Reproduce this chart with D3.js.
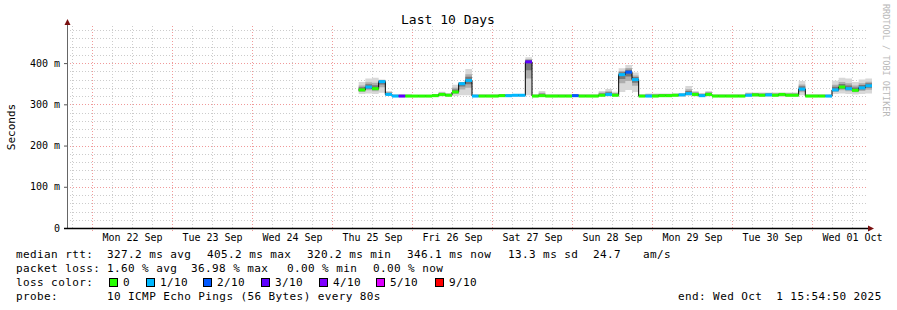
<!DOCTYPE html>
<html>
<head>
<meta charset="utf-8">
<script src="https://cdn.jsdelivr.net/npm/d3@7"></script>
<style>
body { margin: 0; background: #fff; }
text { font-family: "DejaVu Sans Mono", monospace; fill: #000; }
</style>
</head>
<body>
<svg id="plot" width="897" height="310"></svg>
<script>
// samples every 2 hours starting Thu 25 Sep 08:00
const MEDIAN = [335, 342, 338, 355, 324, 320, 320, 320, 320, 320, 320, 321, 324, 322, 330, 350,
  358, 320, 320, 320, 320, 321, 321, 322, 322, 403, 320, 321, 320, 320, 320, 320,
  321, 320, 320, 320, 322, 324, 322, 372, 378, 360, 320, 320, 320, 321, 321, 322,
  323, 326, 324, 321, 324, 320, 320, 320, 320, 320, 322, 323, 322, 323, 322, 324,
  322, 322, 337, 320, 320, 320, 320, 335, 342, 338, 334, 340, 345];
const SMOKE_MAX = [352, 360, 362, 358, 330, 322, 322, 322, 321, 321, 321, 322, 328, 325, 345, 352,
  383, 322, 322, 322, 322, 322, 322, 322, 322, 412, 322, 330, 322, 322, 322, 322,
  322, 322, 322, 322, 330, 335, 328, 385, 393, 375, 322, 324, 324, 324, 324, 324,
  324, 342, 330, 325, 330, 322, 322, 322, 322, 322, 326, 326, 326, 326, 326, 326,
  326, 326, 354, 322, 322, 322, 322, 355, 362, 360, 352, 358, 360];
const SMOKE_MIN = [325, 326, 325, 328, 320, 318, 318, 318, 318, 318, 318, 318, 319, 319, 320, 322,
  322, 318, 318, 318, 318, 318, 318, 318, 318, 322, 318, 318, 318, 318, 318, 318,
  318, 318, 318, 318, 319, 319, 319, 330, 335, 330, 318, 318, 318, 318, 318, 318,
  318, 320, 319, 318, 319, 318, 318, 318, 318, 318, 318, 318, 318, 318, 318, 318,
  318, 318, 322, 318, 318, 318, 318, 325, 326, 325, 324, 325, 326];
// lost pings out of 10
const LOSS = [0, 1, 0, 1, 1, 1, 3, 0, 0, 0, 0, 0, 0, 0, 0, 1,
  1, 1, 0, 0, 0, 0, 1, 1, 1, 3, 0, 0, 0, 0, 0, 0,
  2, 0, 0, 0, 0, 1, 0, 1, 2, 1, 0, 1, 0, 0, 0, 0,
  1, 1, 0, 1, 0, 0, 0, 0, 0, 0, 1, 0, 0, 1, 0, 0,
  0, 0, 1, 0, 0, 0, 1, 1, 0, 1, 0, 1, 1];

const LOSS_LEVELS = [0, 1, 2, 3, 4, 5, 9];
const LOSS_COLORS = ['#26ff00', '#00b8ff', '#0059ff', '#5e00ff', '#7e00ff', '#dd00ff', '#ff0000'];
const LOSS_LABELS = ['0', '1/10', '2/10', '3/10', '4/10', '5/10', '9/10'];

const Y_TICKS = [0, 100, 200, 300, 400];
const DAY_LABELS = ['Mon 22 Sep', 'Tue 23 Sep', 'Wed 24 Sep', 'Thu 25 Sep', 'Fri 26 Sep',
  'Sat 27 Sep', 'Sun 28 Sep', 'Mon 29 Sep', 'Tue 30 Sep', 'Wed 01 Oct'];

const RTT_STATS = ['327.2 ms avg', '405.2 ms max', '320.2 ms min', '346.1 ms now', '13.3 ms sd', '24.7', 'am/s'];
const LOSS_STATS = ['1.60 % avg', '36.98 % max', '0.00 % min', '0.00 % now'];
const PROBE = '10 ICMP Echo Pings (56 Bytes) every 80s';
const END_TEXT = 'end: Wed Oct  1 15:54:50 2025';

const HOUR = 3600 * 1000;
const T0 = Date.UTC(2025, 8, 25, 8);

const svg = d3.select('#plot');
const x = d3.scaleUtc()
  .domain([Date.UTC(2025, 8, 21, 16, 30), Date.UTC(2025, 9, 1, 16, 30)])
  .range([67, 867]);
const y = d3.scaleLinear().domain([0, 490]).range([228, 26]);

// grid
let grid = svg.append('g');
grid.selectAll('.hmin').data(d3.range(20, 490, 20).filter(d => d % 100))
  .enter().append('line')
  .attr('x1', 67).attr('x2', 867)
  .attr('y1', d => Math.round(y(d)) + 0.5).attr('y2', d => Math.round(y(d)) + 0.5)
  .attr('stroke', '#cccccc').attr('stroke-dasharray', '1,2');
grid.selectAll('.vmin').data(d3.utcHour.every(6).range(x.domain()[0], x.domain()[1]).filter(d => d.getUTCHours() != 0))
  .enter().append('line')
  .attr('y1', 26).attr('y2', 230)
  .attr('x1', d => Math.round(x(d)) + 0.5).attr('x2', d => Math.round(x(d)) + 0.5)
  .attr('stroke', '#cccccc').attr('stroke-dasharray', '1,2');
grid.selectAll('.hmaj').data(Y_TICKS.slice(1))
  .enter().append('line')
  .attr('x1', 67).attr('x2', 867)
  .attr('y1', d => Math.round(y(d)) + 0.5).attr('y2', d => Math.round(y(d)) + 0.5)
  .attr('stroke', '#f09a9a').attr('stroke-dasharray', '1,2');
grid.selectAll('.vmaj').data(d3.utcDay.range(x.domain()[0], x.domain()[1]))
  .enter().append('line')
  .attr('y1', 26).attr('y2', 231)
  .attr('x1', d => Math.round(x(d)) + 0.5).attr('x2', d => Math.round(x(d)) + 0.5)
  .attr('stroke', '#f09a9a').attr('stroke-dasharray', '1,2');

// data
const data = MEDIAN.map((m, i) => ({
  t: new Date(T0 + i * 2 * HOUR), med: m, hi: SMOKE_MAX[i], lo: SMOKE_MIN[i], loss: LOSS[i]
}));
const last = data[data.length - 1];
const stepData = data.concat([{ t: new Date(last.t.getTime() + 2 * HOUR), med: last.med, hi: last.hi, lo: last.lo, loss: last.loss }]);

const smoke = [
  { lo: d => d.lo, hi: d => d.hi, c: '#d8d8d8' },
  { lo: d => (d.lo + d.med) / 2, hi: d => (d.hi + d.med) / 2, c: '#adadad' },
  { lo: d => (d.lo + 3 * d.med) / 4, hi: d => (d.hi + 3 * d.med) / 4, c: '#777777' }
];
smoke.forEach(s => {
  svg.append('path').datum(stepData)
    .attr('fill', s.c)
    .attr('d', d3.area().curve(d3.curveStepAfter)
      .x(d => x(d.t)).y0(d => y(s.lo(d))).y1(d => y(s.hi(d)) - 1));
});

svg.append('path').datum(stepData)
  .attr('fill', 'none').attr('stroke', '#000').attr('stroke-width', 1)
  .attr('d', d3.line().curve(d3.curveStepAfter).x(d => x(d.t)).y(d => y(d.med)));

const lossColor = d3.scaleThreshold().domain([1, 2, 3, 4, 5, 9]).range(LOSS_COLORS);
svg.selectAll('.med').data(data).enter().append('line')
  .attr('x1', d => x(d.t))
  .attr('x2', d => x(new Date(d.t.getTime() + 2 * HOUR)))
  .attr('y1', d => y(d.med)).attr('y2', d => y(d.med))
  .attr('stroke', d => lossColor(d.loss)).attr('stroke-width', 3);

// axes
const yAxis = svg.append('g').attr('transform', 'translate(67,0)')
  .call(d3.axisLeft(y).tickValues(Y_TICKS).tickSize(3).tickPadding(4)
    .tickFormat(d => d ? d + ' m' : '0'));
yAxis.select('.domain').remove();
yAxis.selectAll('text').style('font-size', '10px').style('font-family', '"DejaVu Sans Mono", monospace');
yAxis.selectAll('line').attr('stroke', '#555');

const noons = DAY_LABELS.map((l, i) => new Date(Date.UTC(2025, 8, 22 + i, 12)));
const xAxis = svg.append('g').attr('transform', 'translate(0,228)')
  .call(d3.axisBottom(x).tickValues(noons).tickSize(0).tickPadding(6)
    .tickFormat((d, i) => DAY_LABELS[i]));
xAxis.select('.domain').remove();
xAxis.selectAll('text').style('font-size', '10px').style('font-family', '"DejaVu Sans Mono", monospace');

svg.append('line').attr('x1', 67.5).attr('x2', 67.5).attr('y1', 228).attr('y2', 24)
  .attr('stroke', '#666');
svg.append('line').attr('x1', 64).attr('x2', 869).attr('y1', 228.5).attr('y2', 228.5)
  .attr('stroke', '#000').attr('stroke-width', 1.5);
svg.append('path').attr('d', 'M64.5,25 L67.5,19 L70.5,25 Z').attr('fill', '#7a1010');
svg.append('path').attr('d', 'M868,225.5 L874,228.5 L868,231.5 Z').attr('fill', '#7a1010');

// titles
svg.append('text').attr('x', 448).attr('y', 24).attr('text-anchor', 'middle')
  .style('font-size', '13px').text('Last 10 Days');
svg.append('text').attr('transform', 'translate(15,127) rotate(-90)').attr('text-anchor', 'middle')
  .style('font-size', '11px').text('Seconds');
svg.append('text').attr('transform', 'translate(883,4) rotate(90)')
  .style('font-size', '8.5px').style('fill', '#b8b8b8').text('RRDTOOL / TOBI OETIKER');

// legend
function txt(xp, yp, s) {
  svg.append('text').attr('x', xp).attr('y', yp).style('font-size', '11px')
    .style('letter-spacing', '0.4px')
    .attr('xml:space', 'preserve').text(s);
}
txt(16, 258, 'median rtt:');
[107, 207, 307, 407, 508, 593, 643].forEach((xp, i) => txt(xp, 258, RTT_STATS[i]));
txt(16, 272, 'packet loss:');
[107, 191, 287, 373].forEach((xp, i) => txt(xp, 272, LOSS_STATS[i]));
txt(16, 286, 'loss color:');
const sqX = [109, 146, 203, 261, 319, 376, 435];
LOSS_LEVELS.forEach((l, i) => {
  svg.append('rect').attr('x', sqX[i] + 0.5).attr('y', 278.5).attr('width', 8).attr('height', 8)
    .attr('fill', LOSS_COLORS[i]).attr('stroke', '#000').attr('stroke-width', 1);
  txt(sqX[i] + 14, 286, LOSS_LABELS[i]);
});
txt(16, 300, 'probe:');
txt(107, 300, PROBE);
txt(678, 300, END_TEXT);
</script>
</body>
</html>
